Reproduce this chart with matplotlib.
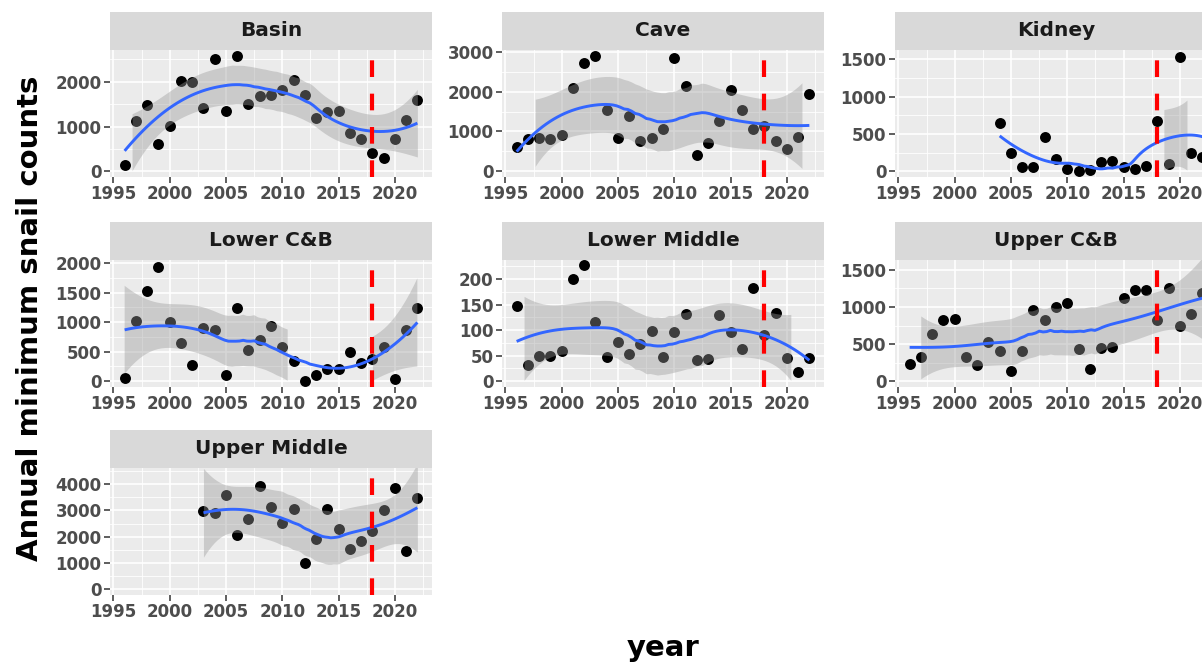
import math
import numpy as np
import matplotlib
matplotlib.use("Agg")
import matplotlib.pyplot as plt
from matplotlib.ticker import MultipleLocator

# ---------------- data ----------------
panel_names = ["Basin", "Cave", "Kidney", "Lower C&B", "Lower Middle", "Upper C&B", "Upper Middle"]

years_all = list(range(1996, 2023))

basin_years = years_all
basin_counts = [150, 1120, 1480, 600, 1010, 2010, 2000, 1420, 2500, 1340, 2580, 1510, 1690, 1700,
                1810, 2030, 1700, 1180, 1330, 1340, 860, 720, 400, 300, 730, 1140, 1590]

cave_years = years_all
cave_counts = [610, 800, 840, 800, 900, 2080, 2710, 2900, 1530, 840, 1390, 750, 840, 1050,
               2850, 2140, 400, 700, 1260, 2040, 1530, 1050, 1140, 750, 570, 860, 1930]

kidney_years = list(range(2004, 2023))
kidney_counts = [650, 250, 60, 60, 460, 160, 30, 5, 15, 125, 140, 60, 30, 65, 670, 100, 1530, 240, 190]

lower_cb_years = years_all
lower_cb_counts = [50, 1020, 1520, 1930, 1000, 640, 280, 900, 870, 110, 1240, 520, 700, 930,
                   580, 340, 10, 100, 210, 210, 490, 300, 380, 580, 40, 860, 1240]

lower_mid_years = years_all
lower_mid_counts = [148, 31, 49, 50, 59, 201, 227, 116, 48, 77, 54, 72, 98, 48,
                    96, 131, 41, 44, 129, 96, 63, 183, 90, 134, 46, 18, 46]

upper_cb_years = years_all
upper_cb_counts = [234, 323, 640, 820, 840, 323, 220, 526, 404, 144, 414, 962, 827, 1007,
                   1050, 437, 167, 450, 468, 1120, 1232, 1232, 827, 1253, 751, 908, 1186]

upper_mid_years = list(range(2003, 2023))
upper_mid_counts = [2980, 2900, 3580, 2060, 2690, 3940, 3150, 2540, 3070, 990, 1930, 3070,
                    2290, 1520, 1840, 2220, 3020, 3840, 1460, 3460]

panel_years = [basin_years, cave_years, kidney_years, lower_cb_years,
               lower_mid_years, upper_cb_years, upper_mid_years]
panel_counts = [basin_counts, cave_counts, kidney_counts, lower_cb_counts,
                lower_mid_counts, upper_cb_counts, upper_mid_counts]
# upper end of each panel's y data range
panel_y_max = [2583, 2900, 1546, 1952, 226, 1556, 4398]
y_steps = [1000, 1000, 500, 500, 50, 500, 1000]

x_ticks = [1995, 2000, 2005, 2010, 2015, 2020]
cutoff_year = 2018
ci_level = 0.985
loess_span = 0.75
loess_degree = 2

x_title = "year"
y_title = "Annual minimum snail counts"


# ---------------- loess smoother (as geom_smooth) ----------------
def t_quantile(p, df):
    c = math.lgamma((df + 1) / 2) - math.lgamma(df / 2) - 0.5 * math.log(df * math.pi)

    def half(t):
        ts = np.linspace(0, t, 3001)
        f = np.exp(c - (df + 1) / 2 * np.log1p(ts ** 2 / df))
        return np.trapezoid(f, ts)

    lo, hi = 0.0, 60.0
    for _ in range(70):
        mid = (lo + hi) / 2
        if half(mid) < p - 0.5:
            lo = mid
        else:
            hi = mid
    return (lo + hi) / 2


def loess_band(x, y, xs, span, level, degree):
    x = np.asarray(x, float)
    y = np.asarray(y, float)
    n = len(x)
    q = int(np.floor(n * span))

    def row(x0):
        d = np.abs(x - x0)
        h = np.sort(d)[q - 1]
        u = d / h
        w = np.where(u < 1, (1 - u ** 3) ** 3, 0.0)
        X = np.column_stack([(x - x0) ** k for k in range(degree + 1)])
        XtW = X.T * w
        op = np.linalg.solve(XtW @ X, XtW)
        return op[0]

    L = np.array([row(v) for v in x])
    res = y - L @ y
    IL = np.eye(n) - L
    M = IL.T @ IL
    d1 = np.trace(M)
    d2 = np.trace(M @ M)
    sigma = math.sqrt(np.sum(res ** 2) / d1)
    df = d1 ** 2 / d2
    Ls = np.array([row(v) for v in xs])
    fit = Ls @ y
    se = sigma * np.sqrt(np.sum(Ls ** 2, axis=1))
    tq = t_quantile((1 + level) / 2, df)
    return fit, fit - tq * se, fit + tq * se


# ---------------- figure ----------------
W, H = 1202, 663
fig = plt.figure(figsize=(W / 100, H / 100), dpi=100)
fig.patch.set_facecolor("white")

FONT = "DejaVu Sans"
col_left = [110, 502, 895]
panel_w = 322
row_top = [50, 260, 468]
panel_h = 127
strip_h = 38

for i, name in enumerate(panel_names):
    r, c = divmod(i, 3)
    left, top = col_left[c], row_top[r]
    ax = fig.add_axes([left / W, 1 - (top + panel_h) / H, panel_w / W, panel_h / H])
    sax = fig.add_axes([left / W, 1 - top / H, panel_w / W, strip_h / H])
    sax.set_facecolor("#D9D9D9")
    sax.set_xticks([]); sax.set_yticks([])
    for s in sax.spines.values():
        s.set_visible(False)
    sax.text(0.5, 0.5, name, ha="center", va="center", fontsize=14.5,
             fontweight="bold", color="#1A1A1A", family=FONT, transform=sax.transAxes)

    xr = np.asarray(panel_years[i], float)
    yr = np.asarray(panel_counts[i], float)
    xs = np.linspace(xr.min(), xr.max(), 80)
    fit, lo, hi = loess_band(xr, yr, xs, loess_span, ci_level, loess_degree)

    top_val = panel_y_max[i]
    ax.set_ylim(-0.05 * top_val, 1.05 * top_val)
    ax.set_xlim(1994.7, 2023.3)

    ax.set_facecolor("#EBEBEB")
    for s in ax.spines.values():
        s.set_visible(False)
    ax.set_axisbelow(True)
    ax.set_xticks(x_ticks)
    ax.xaxis.set_minor_locator(MultipleLocator(2.5))
    ax.yaxis.set_major_locator(MultipleLocator(y_steps[i]))
    ax.yaxis.set_minor_locator(MultipleLocator(y_steps[i] / 2))
    ax.grid(which="major", color="white", linewidth=1.2)
    ax.grid(which="minor", color="white", linewidth=0.6)
    ax.tick_params(which="major", length=4, width=1.1, color="#333333", pad=2,
                   labelsize=12, labelcolor="#4D4D4D")
    ax.tick_params(which="minor", length=0)
    for lab in ax.get_xticklabels() + ax.get_yticklabels():
        lab.set_fontweight("bold")
        lab.set_family(FONT)

    ax.scatter(xr, yr, s=62, color="black", linewidths=0, zorder=2)

    ok = lo >= 0
    ax.fill_between(xs, lo, hi, where=ok, color="#999999", alpha=0.4,
                    linewidth=0, zorder=3)
    ax.plot(xs, fit, color="#3366FF", linewidth=2.1, zorder=4, solid_capstyle="butt")
    ax.axvline(cutoff_year, color="red", linewidth=3, linestyle=(0, (4, 4)), zorder=5)

fig.text(663 / W, 1 - 648 / H, x_title, ha="center", va="center", fontsize=21,
         fontweight="bold", color="black", family=FONT)
fig.text(30 / W, 1 - 318 / H, y_title, ha="center", va="center", rotation=90,
         fontsize=21, fontweight="bold", color="black", family=FONT)

fig.savefig("out.png", dpi=100)
